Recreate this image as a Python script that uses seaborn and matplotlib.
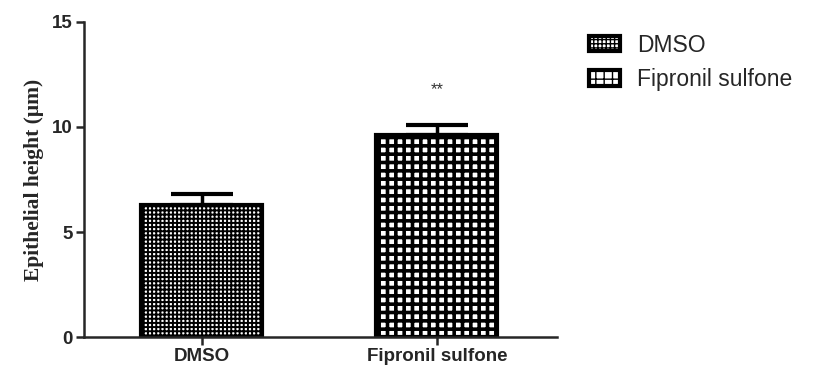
import matplotlib
matplotlib.use('Agg')
import matplotlib.pyplot as plt
import seaborn as sns
import pandas as pd

# valores
grupos = ['DMSO', 'Fipronil sulfone']
medias = [6.3, 9.6]
errores = [0.5, 0.5]
significancia = ['', '**']
patrones = ['++++', '++']
grosor_patron = [1.4, 2.6]

sns.set_style('ticks')
plt.rcParams['font.family'] = ['Liberation Sans', 'DejaVu Sans']

df = pd.DataFrame({'grupo': grupos, 'media': medias})

fig = plt.figure(figsize=(8.15, 3.72), dpi=100)
ax = fig.add_axes([0.103, 0.094, 0.58, 0.847])

sns.barplot(data=df, x='grupo', y='media', hue='grupo', palette=['white', 'white'],
            edgecolor='black', linewidth=3, width=0.515, errorbar=None, legend=False, ax=ax)

# patrones de relleno (tipo tablero)
for cont, patron, g in zip(ax.containers, patrones, grosor_patron):
    for barra in cont:
        barra.set_hatch(patron)
        if hasattr(barra, 'set_hatch_linewidth'):
            barra.set_hatch_linewidth(g)

ax.errorbar(range(len(grupos)), medias, yerr=[[0] * len(errores), errores], fmt='none',
            ecolor='black', elinewidth=2.5, capsize=22, capthick=3, zorder=1)

for i, s in enumerate(significancia):
    if s:
        ax.text(i, medias[i] + errores[i] + 1.7, s, ha='center', va='center', fontsize=12, color='#333333')

ax.set_xlim(-0.502, 1.51)
ax.set_ylim(0, 15)
ax.set_yticks([0, 5, 10, 15])
ax.set_xlabel('')
ax.set_ylabel('Epithelial height (μm)', fontsize=15.5, fontweight='bold',
              family=['Liberation Serif', 'DejaVu Serif'], labelpad=6)
for lab in ax.get_xticklabels() + ax.get_yticklabels():
    lab.set_fontweight('bold')
    lab.set_fontsize(13.5)
ax.tick_params(width=1.8, length=6, pad=2)
sns.despine(ax=ax)
for sp in ['left', 'bottom']:
    ax.spines[sp].set_linewidth(1.8)

fig.legend(ax.containers, grupos, loc='upper left', bbox_to_anchor=(0.697, 0.965), frameon=False,
           fontsize=16.5, handlelength=1.35, handleheight=0.65, labelspacing=0.5, handletextpad=0.75)

plt.savefig('out.png', dpi=100)
